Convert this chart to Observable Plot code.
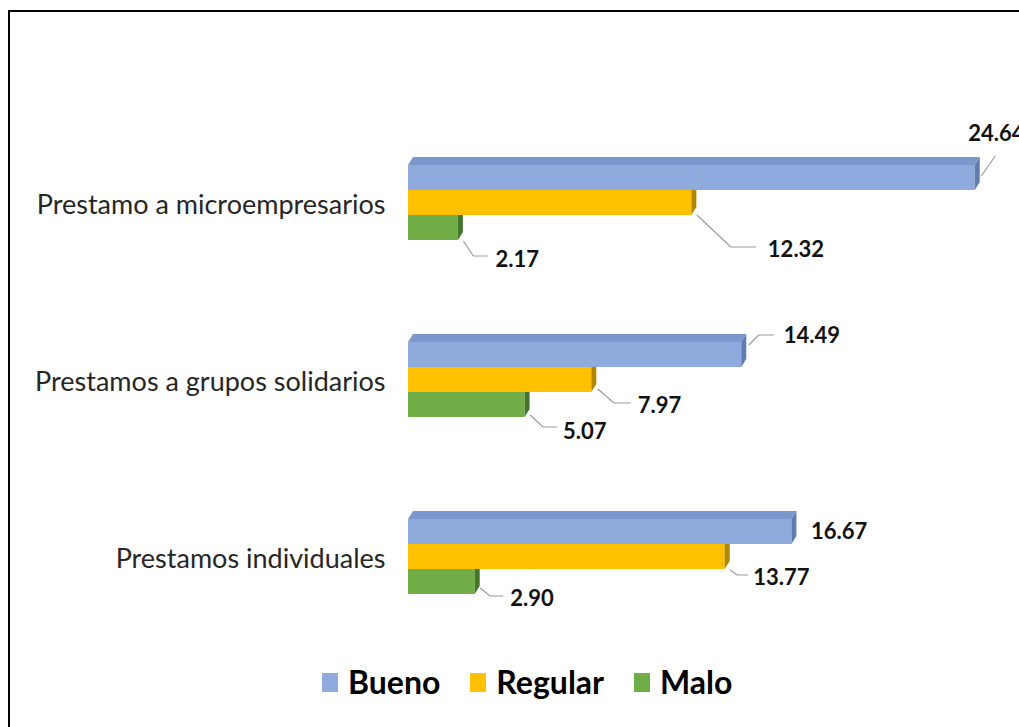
<!DOCTYPE html>
<html>
<head>
<meta charset="utf-8">
<script src="https://cdn.jsdelivr.net/npm/d3@7"></script>
<script src="https://cdn.jsdelivr.net/npm/@observablehq/plot@0.6"></script>
<style>
  html, body { margin: 0; padding: 0; background: #fff; }
  body { width: 1019px; height: 727px; overflow: hidden; position: relative; font-family: Lato, sans-serif; }
  #frame { position: absolute; left: 8px; top: 10px; width: 1200px; height: 900px; border: 2px solid #000; box-sizing: border-box; }
  #chart { position: absolute; left: 0; top: 0; }
  #legend { position: absolute; left: 322px; top: 663px; display: flex; align-items: center; font-family: Lato, sans-serif; font-weight: 700; font-size: 32px; line-height: 38px; color: #000; }
  #legend .item { display: flex; align-items: center; margin-right: 30px; }
  #legend .sw { width: 16px; height: 19px; margin-right: 10px; }
</style>
</head>
<body>
<div id="frame"></div>
<div id="chart"></div>
<div id="legend"></div>
<script>
const categories = ["Prestamo a microempresarios", "Prestamos a grupos solidarios", "Prestamos individuales"];
const series = ["Bueno", "Regular", "Malo"];
const bueno = [24.64, 14.49, 16.67];
const regular = [12.32, 7.97, 13.77];
const malo = [2.17, 5.07, 2.90];
const valuesBySeries = [bueno, regular, malo];
const colors = ["#8FAADC", "#FFC000", "#70AD47"];
const topColors = ["#7C97CC", "#DDA800", "#5E9A38"];
const sideColors = ["#5F7CB2", "#B38600", "#44752A"];

// annotation placement for value labels (pixels, relative to bar end / band centre)
const labelLayout = [
  [{dx: -7, dy: -44, leader: [[6, -2], [20, -22]]}, {dx: 76, dy: 47, leader: [[5, 12], [39, 44], [64, 44]]}, {dx: 37, dy: 32, leader: [[5, 13], [15, 28], [29, 28]]}],
  [{dx: 42, dy: -19, leader: [[7, -10], [17, -20], [32, -20]]}, {dx: 46, dy: 26, leader: [[6, 9], [22, 23], [39, 23]]}, {dx: 38, dy: 27, leader: [[5, 10], [18, 22], [32, 22]]}],
  [{dx: 19, dy: 0, leader: null}, {dx: 28, dy: 21, leader: [[5, 13], [12, 18], [23, 18]]}, {dx: 35, dy: 17, leader: [[5, 6], [15, 14], [28, 14]]}]
];

const rows = [];
categories.forEach((c, ci) => series.forEach((s, si) => rows.push({category: c, series: s, value: valuesBySeries[si][ci], ci, si})));
const drawRows = rows.slice().sort((a, b) => (a.ci - b.ci) || (b.si - a.si));

const NS = "http://www.w3.org/2000/svg";
const DEPTH_X = 5, DEPTH_Y = 8;

function bars3d(index, scales, values, dimensions, context, next) {
  const g = next(index, scales, values, dimensions, context);
  const rects = Array.from(g.querySelectorAll("rect"));
  rects.forEach((r, k) => {
    const d = drawRows[index[k]];
    const x = +r.getAttribute("x"), y = +r.getAttribute("y");
    const w = +r.getAttribute("width"), h = +r.getAttribute("height");
    const top = document.createElementNS(NS, "polygon");
    top.setAttribute("points", `${x},${y} ${x + w},${y} ${x + w + DEPTH_X},${y - DEPTH_Y} ${x + DEPTH_X},${y - DEPTH_Y}`);
    top.setAttribute("fill", topColors[d.si]);
    const side = document.createElementNS(NS, "polygon");
    side.setAttribute("points", `${x + w},${y} ${x + w + DEPTH_X},${y - DEPTH_Y} ${x + w + DEPTH_X},${y + h - DEPTH_Y} ${x + w},${y + h}`);
    side.setAttribute("fill", sideColors[d.si]);
    r.after(top);
    top.after(side);
  });
  return g;
}

function labelsRender(index, scales, values, dimensions, context, next) {
  const g = next(index, scales, values, dimensions, context);
  const texts = Array.from(g.querySelectorAll("text"));
  texts.forEach((t, k) => {
    const d = rows[index[k]];
    const m = /translate\(([-\d.e]+),\s*([-\d.e]+)\)/.exec(t.getAttribute("transform") || "");
    if (!m) return;
    const X = +m[1], Y = +m[2];
    const L = labelLayout[d.ci][d.si];
    t.setAttribute("transform", `translate(${X + L.dx},${Y + L.dy})`);
    if (L.leader) {
      const p = document.createElementNS(NS, "polyline");
      p.setAttribute("points", L.leader.map(([a, b]) => `${X + a},${Y + b}`).join(" "));
      p.setAttribute("fill", "none");
      p.setAttribute("stroke", "#9a9a9a");
      p.setAttribute("stroke-width", "1.2");
      g.insertBefore(p, g.firstChild);
    }
  });
  return g;
}

const chart = Plot.plot({
  width: 1019,
  height: 727,
  marginLeft: 408,
  marginRight: 36,
  marginTop: 163,
  marginBottom: 132,
  style: {background: "transparent", overflow: "visible"},
  x: {domain: [0, 25], axis: null},
  y: {domain: series, axis: null, padding: 0.02},
  fy: {domain: categories, paddingInner: 0.573, paddingOuter: 0, label: null},
  color: {domain: series, range: colors},
  marks: [
    Plot.axisFy({anchor: "left", tickSize: 0, tickPadding: 23, fontSize: 27, fontFamily: "Lato", fill: "#262626", label: null, dy: 3}),
    Plot.barX(drawRows, {x: "value", y: "series", fy: "category", fill: "series", render: bars3d}),
    Plot.text(rows, {x: "value", y: "series", fy: "category", text: d => d.value.toFixed(2), textAnchor: "start", fontWeight: "bold", fontSize: 22, fontFamily: "Lato", fill: "#111", render: labelsRender})
  ]
});
document.getElementById("chart").appendChild(chart);

const legend = document.getElementById("legend");
series.forEach((s, i) => {
  const item = document.createElement("div");
  item.className = "item";
  const sw = document.createElement("span");
  sw.className = "sw";
  sw.style.background = colors[i];
  const lb = document.createElement("span");
  lb.textContent = s;
  item.appendChild(sw);
  item.appendChild(lb);
  legend.appendChild(item);
});
</script>
</body>
</html>
